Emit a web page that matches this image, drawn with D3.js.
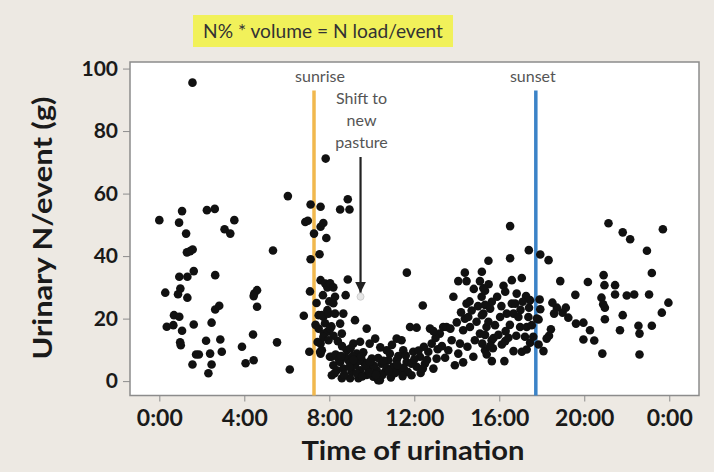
<!DOCTYPE html>
<html>
<head>
<meta charset="utf-8">
<script src="https://cdn.jsdelivr.net/npm/d3@7"></script>
<style>
  body { margin: 0; background: #ede9e3; }
  svg { display: block; }
</style>
</head>
<body>
<svg id="chart" width="714" height="472"></svg>
<script>
// time of urination (hours after midnight), urinary N per event (g)
var urinations = [
  [1.56,95.5],[0.0,51.5],[1.07,54.4],[0.93,50.7],[1.26,47.2],[1.3,41.2],[1.57,42.1],[1.45,41.6],
  [0.94,33.4],[1.32,33.4],[1.62,35.2],[0.28,28.3],[0.99,29.6],[0.88,27.8],[1.32,26.7],[0.69,21.1],
  [0.94,20.6],[0.35,17.4],[0.66,17.9],[1.07,16.1],[0.98,12.4],[1.01,11.5],[1.62,18.1],[1.73,8.5],
  [1.86,8.5],[1.56,5.3],[2.2,12.9],[2.39,8.8],[2.46,5.3],[2.31,2.5],[2.24,54.7],[2.61,55.1],
  [2.63,33.9],[2.46,18.7],[2.63,22.9],[2.82,24.1],[2.87,13.3],[2.94,9.4],[3.07,48.6],[3.34,47.2],
  [3.53,51.5],[3.89,11.0],[4.06,5.7],[4.44,6.7],[4.41,14.9],[4.47,28.0],[4.6,29.1],[4.44,27.2],
  [4.6,23.8],[5.35,41.8],[5.54,12.4],[6.14,3.7],[6.05,59.2],
  // around sunrise
  [6.8,20.9],[7.06,9.4],[7.12,56.5],[7.59,55.8],[6.87,50.9],[6.99,51.3],[7.28,47.2],[7.59,49.4],
  [7.72,50.6],[7.86,45.8],[7.12,39.0],[7.54,40.6],[7.09,28.7],[7.59,32.3],[7.81,31.2],[7.91,30.0],
  [7.5,21.1],[7.72,20.6],[7.91,22.7],[7.5,16.8],[7.75,15.2],[7.91,15.8],[7.59,12.0],[7.59,8.8],
  [7.83,71.2],[8.03,7.8],[7.65,9.9],[7.35,18.0],[7.4,25.0],[7.45,12.5],[7.8,18.5],[8.1,17.5],
  [8.0,25.5],[7.7,27.5],[8.4,12.8],[8.2,14.5],
  // morning, before and after the move
  [8.51,54.9],[8.95,54.9],[8.87,58.2],[11.65,34.7],[15.49,38.5],[8.87,32.5],[8.04,31.3],[8.19,30.0],
  [8.77,27.5],[8.27,27.0],[8.19,24.9],[7.65,21.1],[7.96,21.6],[8.27,21.6],[8.66,21.6],[9.21,19.5],
  [8.51,18.4],[9.76,16.8],[10.16,13.6],[11.17,13.6],[11.8,17.3],[12.11,17.1],[12.4,24.2],[8.04,16.8],
  [8.59,15.2],[7.72,14.1],[7.96,13.1],[9.13,12.0],[9.45,12.6],[7.57,9.4],
  [8.12,7.8],[8.19,5.1],[8.35,3.5],[8.51,6.1],[8.66,4.0],[8.82,9.9],[8.9,6.7],[9.05,3.0],
  [9.21,5.1],[9.29,8.8],[9.45,3.5],[9.6,6.1],[9.76,2.0],[9.84,4.0],[10.0,7.2],[10.07,1.4],
  [10.23,3.5],[10.38,0.3],[10.46,5.6],[10.62,3.0],[10.78,6.7],[10.85,8.8],[11.01,4.6],[11.17,6.7],
  [11.33,3.5],[11.48,9.9],[11.64,6.1],[11.87,1.9],[11.95,9.4],[12.11,4.6],[12.27,7.8],[12.5,5.6],
  [12.66,9.4],[12.82,12.0],[12.9,4.0],[13.05,7.2],[13.2,15.2],[13.36,17.3],[13.52,17.3],[13.6,9.9],
  [13.76,13.1],[13.91,5.1],[14.07,8.8],[14.15,12.0],[14.3,16.3],[14.38,20.0],[14.46,24.8],[14.54,20.5],
  [14.62,17.3],[14.7,22.6],[14.78,7.8],[14.85,13.1],[14.93,19.0],[15.09,15.2],[15.17,27.0],[15.25,21.6],
  [15.33,9.9],[15.4,17.3],[15.64,13.1],[14.07,32.0],[14.46,32.0],[14.38,34.7],[15.09,32.0],[13.84,27.0],
  [15.33,28.9],[8.12,1.9],[8.59,0.9],[8.98,0.9],[9.37,0.9],[10.3,0.3],[11.87,5.6],[10.7,9.9],
  [11.4,13.1],[12.74,16.8],[9.9,12.0],
  [8.3,8.5],[8.45,6.9],[8.7,2.1],[8.8,7.5],[9.0,5.9],[9.1,8.0],[9.3,2.5],[9.4,6.5],[9.55,1.5],
  [9.7,4.8],[9.9,2.8],[10.1,5.0],[10.3,7.4],[10.5,2.0],[10.7,4.2],[10.9,1.2],[11.1,2.6],[11.25,8.0],
  [11.5,4.3],[11.7,2.9],[12.0,7.0],[12.3,2.6],[12.6,6.8],[8.6,11.2],[9.0,10.5],[9.6,9.2],[10.4,10.8],
  [10.95,11.6],[12.45,11.0],[13.3,11.2],[13.0,13.8],[12.9,16.0],[13.7,16.8],[14.0,18.8],[14.2,22.0],
  [14.6,25.5],[15.0,24.0],[14.8,29.5],[15.5,31.0],[15.9,27.0],[16.1,24.0],[15.7,10.5],[14.5,11.0],
  [14.3,6.0],[16.5,18.0],[16.8,14.5],[17.0,22.8],[17.4,23.5],[16.3,16.0],[15.2,12.0],
  [8.25,2.5],[8.55,8.0],[8.95,4.5],[9.15,6.8],[9.5,7.8],[9.9,6.2],[10.2,2.0],[10.55,6.5],
  [10.8,3.2],[11.2,5.2],[11.45,1.6],[11.6,8.2],[12.2,9.8],[12.4,4.0],[13.1,10.2],[13.45,7.5],
  // afternoon and evening
  [16.51,49.6],[21.14,50.5],[21.81,47.6],[22.16,45.4],[23.7,48.6],[22.95,41.7],[17.39,41.9],[17.93,40.5],
  [18.32,38.7],[16.51,39.3],[20.91,33.9],[20.95,30.7],[21.45,30.7],[21.45,27.7],[23.18,34.6],[18.87,32.0],
  [20.17,31.7],[17.06,33.0],[16.59,32.3],[16.2,30.5],[22.0,27.4],[22.35,27.7],[23.05,27.7],[23.96,25.1],
  [23.65,21.9],[19.58,27.6],[20.81,26.7],[20.89,24.6],[20.97,23.5],[20.97,19.8],[21.81,21.1],[21.68,16.3],
  [22.55,17.7],[22.6,15.2],[23.18,17.7],[22.6,8.5],[20.85,8.8],[20.47,13.0],[19.96,13.3],[20.27,16.3],
  [19.96,18.7],[19.61,18.4],[19.25,20.3],[19.13,23.5],[18.98,21.9],[18.71,23.5],[18.58,21.6],[18.5,25.1],
  [18.43,16.6],[18.34,14.5],[18.23,13.6],[17.9,26.1],[17.85,19.7],[18.08,9.6],[17.85,11.7],[16.24,6.4],
  [15.18,35.0],[15.25,29.7],[15.33,24.4],[15.18,21.1],[15.57,23.2],[15.65,25.4],[15.49,19.0],[15.8,17.9],
  [15.33,14.8],[15.73,13.8],[15.96,14.8],[15.41,8.5],[15.65,6.4],[15.57,11.2],[16.12,11.7],[16.28,12.8],
  [16.43,13.9],[16.67,9.6],[16.04,20.5],[16.35,21.6],[16.59,24.8],[16.75,24.8],[16.82,28.0],[16.67,21.6],
  [16.9,20.5],[16.98,17.3],[17.06,9.4],[17.21,14.2],[17.29,17.3],[17.37,20.5],[17.45,25.9],[17.26,27.2],
  [17.53,17.9],[17.6,14.2],[17.45,12.3],[17.29,10.1],[17.1,25.4],[16.28,28.6],[17.93,23.0],[17.77,20.0]
];
// the event right after the shift to new pasture (drawn pale)
var shiftEvent = [9.47, 27];

var sunriseHour = 7.28, sunsetHour = 17.72;
var xTicks = [0, 4, 8, 12, 16, 20, 24];
var xTickLabels = ["0:00", "4:00", "8:00", "12:00", "16:00", "20:00", "0:00"];
var yTicks = [0, 20, 40, 60, 80, 100];

var svg = d3.select("#chart");
var plotL = 130, plotR = 699, plotT = 62, plotB = 395.5;

var x = d3.scaleLinear().domain([-1.38, 25.4]).range([plotL, plotR]);
var y = d3.scaleLinear().domain([-4.6, 102.1]).range([plotB, plotT]);

// highlighted formula
svg.append("rect")
  .attr("x", 193).attr("y", 15).attr("width", 260).attr("height", 32)
  .style("fill", "#f1f15a");
svg.append("text")
  .attr("x", 323).attr("y", 38)
  .attr("text-anchor", "middle")
  .attr("textLength", 240).attr("lengthAdjust", "spacingAndGlyphs")
  .style("font-family", "Lato").style("font-size", "19px").style("fill", "#333")
  .text("N% * volume = N load/event");

// plot area
svg.append("rect")
  .attr("x", plotL).attr("y", plotT)
  .attr("width", plotR - plotL).attr("height", plotB - plotT)
  .style("fill", "#fff")
  .style("stroke", "#8c8c8c").style("stroke-width", 1.5);

// sunrise / sunset
svg.append("line")
  .attr("x1", x(sunriseHour)).attr("x2", x(sunriseHour))
  .attr("y1", y(93)).attr("y2", plotB)
  .style("stroke", "#f1b84e").style("stroke-width", 3.5);
svg.append("line")
  .attr("x1", x(sunsetHour)).attr("x2", x(sunsetHour))
  .attr("y1", y(93)).attr("y2", plotB)
  .style("stroke", "#3b83c7").style("stroke-width", 3.5);

var note = function(sel) {
  return sel.style("font-family", "Lato").style("font-size", "16px").style("fill", "#555")
    .attr("text-anchor", "middle");
};
note(svg.append("text").attr("x", x(sunriseHour) + 6).attr("y", 82)).text("sunrise");
note(svg.append("text").attr("x", x(sunsetHour) - 3).attr("y", 82)).text("sunset");

var shiftX = x(shiftEvent[0]);
var shiftLines = ["Shift to", "new", "pasture"];
shiftLines.forEach(function(s, i) {
  note(svg.append("text").attr("x", shiftX + 1).attr("y", 104 + i * 22)).text(s);
});

svg.append("defs").append("marker")
  .attr("id", "head")
  .attr("viewBox", "0 0 10 10").attr("refX", 10).attr("refY", 5)
  .attr("markerWidth", 5).attr("markerHeight", 5)
  .attr("orient", "auto")
  .append("path").attr("d", "M0,0 L10,5 L0,10 z").style("fill", "#222");
svg.append("line")
  .attr("x1", shiftX).attr("x2", shiftX)
  .attr("y1", 157).attr("y2", y(shiftEvent[1]) - 4)
  .style("stroke", "#222").style("stroke-width", 2.2)
  .attr("marker-end", "url(#head)");

// points
svg.append("g").selectAll("circle")
  .data(urinations)
  .enter().append("circle")
  .attr("cx", function(d) { return x(d[0]); })
  .attr("cy", function(d) { return y(d[1]); })
  .attr("r", 4.3)
  .style("fill", "#111");
svg.append("circle")
  .attr("cx", x(shiftEvent[0])).attr("cy", y(shiftEvent[1]))
  .attr("r", 3.5)
  .style("fill", "#e6e6e6").style("stroke", "#cfcfcf");

// axes
var gx = svg.append("g")
  .attr("transform", "translate(0," + plotB + ")")
  .call(d3.axisBottom(x).tickValues(xTicks)
    .tickFormat(function(d, i) { return xTickLabels[i]; })
    .tickSize(6).tickPadding(8));
gx.select(".domain").remove();
gx.selectAll(".tick line").attr("stroke", "#8c8c8c");
gx.selectAll(".tick text")
  .style("font-family", "Lato").style("font-weight", "bold").style("font-size", "23px")
  .style("fill", "#1a1a1a");

var gy = svg.append("g")
  .attr("transform", "translate(" + plotL + ",0)")
  .call(d3.axisLeft(y).tickValues(yTicks).tickSize(7).tickPadding(5));
gy.select(".domain").remove();
gy.selectAll(".tick line").attr("stroke", "#8c8c8c");
gy.selectAll(".tick text")
  .style("font-family", "Lato").style("font-weight", "bold").style("font-size", "21px")
  .style("fill", "#1a1a1a");

// axis titles
svg.append("text")
  .attr("x", 413).attr("y", 460)
  .attr("text-anchor", "middle")
  .attr("textLength", 223).attr("lengthAdjust", "spacingAndGlyphs")
  .style("font-family", "Lato").style("font-weight", "bold").style("font-size", "27px")
  .style("fill", "#1a1a1a")
  .text("Time of urination");
svg.append("text")
  .attr("transform", "translate(52,228) rotate(-90)")
  .attr("text-anchor", "middle")
  .attr("textLength", 263).attr("lengthAdjust", "spacingAndGlyphs")
  .style("font-family", "Lato").style("font-weight", "bold").style("font-size", "26px")
  .style("fill", "#1a1a1a")
  .text("Urinary N/event (g)");
</script>
</body>
</html>
